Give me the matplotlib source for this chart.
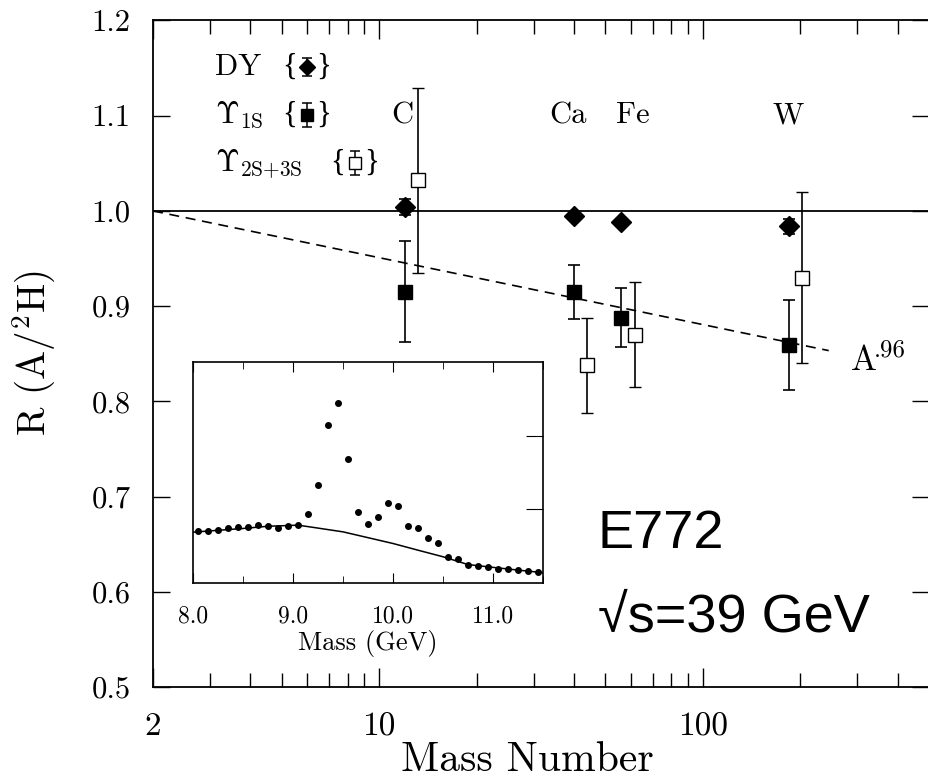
import matplotlib
matplotlib.use('Agg')
import matplotlib.pyplot as plt
import numpy as np
from matplotlib.ticker import FixedLocator, FuncFormatter, LogLocator, NullFormatter, MultipleLocator

plt.rcParams['font.family'] = 'cmr10'
plt.rcParams['mathtext.fontset'] = 'cm'
plt.rcParams['axes.formatter.use_mathtext'] = True
plt.rcParams['axes.unicode_minus'] = False

# nuclear targets
elements = ['C', 'Ca', 'Fe', 'W']
mass_number = [12, 40, 56, 184]

# Drell-Yan ratios
dy_ratio = [1.004, 0.995, 0.988, 0.984]
dy_err = [0.008, 0.004, 0.004, 0.008]

# Upsilon(1S) ratios
ups1s_ratio = [0.915, 0.915, 0.888, 0.859]
ups1s_err = [0.053, 0.028, 0.031, 0.047]

# Upsilon(2S+3S) ratios
ups23_ratio = [1.032, 0.838, 0.870, 0.930]
ups23_err = [0.097, 0.050, 0.055, 0.090]

# power-law guide  R = (A/2)^slope
guide_a = [2, 245]
guide_slope = -0.033

# inset: dimuon mass spectrum (arbitrary units)
inset_mass = [8.05, 8.15, 8.25, 8.35, 8.45, 8.55, 8.65, 8.75, 8.85, 8.95, 9.05,
              9.15, 9.25, 9.35, 9.45, 9.55, 9.65, 9.75, 9.85, 9.95, 10.05, 10.15,
              10.25, 10.35, 10.45, 10.55, 10.65, 10.75, 10.85, 10.95, 11.05, 11.15,
              11.25, 11.35, 11.45]
inset_counts = [0.70, 0.70, 0.725, 0.748, 0.757, 0.757, 0.793, 0.775, 0.748, 0.775, 0.793,
                0.932, 1.324, 2.144, 2.437, 1.685, 0.964, 0.797, 0.896, 1.085, 1.041, 0.775,
                0.743, 0.612, 0.536, 0.351, 0.324, 0.243, 0.225, 0.216, 0.194, 0.194,
                0.176, 0.167, 0.144]
cont_mass = [8.0, 8.25, 8.5, 8.75, 9.05, 9.25, 9.5, 9.75, 10.0, 10.25, 10.5, 10.75, 11.0, 11.25, 11.5]
cont_counts = [0.69, 0.715, 0.74, 0.77, 0.785, 0.745, 0.694, 0.615, 0.536, 0.445, 0.356, 0.25, 0.212, 0.175, 0.14]

fig = plt.figure(figsize=(9.29, 7.82), dpi=100)
ax = fig.add_axes([0.1647, 0.1215, 0.8353, 0.8523])

a = np.array(mass_number, dtype=float)
shift = 1.1  # open squares drawn slightly to the right

ax.axhline(1.0, color='k', lw=1.3, zorder=1)
ga = np.array(guide_a, dtype=float)
ax.plot(ga, (ga / 2) ** guide_slope, color='k', lw=1.2, ls=(0, (6, 4)), zorder=1)

eb = dict(color='k', ecolor='k', elinewidth=1.2, capsize=4, capthick=1.2, ls='none')
ax.errorbar(a, dy_ratio, yerr=dy_err, marker='D', ms=10, **eb, zorder=4)
ax.errorbar(a, ups1s_ratio, yerr=ups1s_err, marker='s', ms=10, **eb, zorder=4)
ax.errorbar(a * shift, ups23_ratio, yerr=ups23_err, marker='s', ms=10, mfc='white',
            mec='k', mew=1.0, **eb, zorder=3)

for name, aval, dx in zip(elements, mass_number, [-2, -4, 8, 0]):
    ax.annotate(name, (aval, 1.10), xytext=(dx, 0), textcoords='offset points',
                ha='center', va='center', fontsize=22)

ax.text(286, 0.833, 'A', fontsize=25, ha='left', va='baseline')
ax.annotate('.96', (286, 0.833), xytext=(17, 10), textcoords='offset points',
            fontsize=18, ha='left', va='baseline')

# key for the three series
keys = [(r'DY', 0.198, 0.930, 0.0135, dict(marker='D', mfc='k')),
        (r'$\Upsilon_{\rm 1S}$', 0.198, 0.858, 0.018, dict(marker='s', mfc='k')),
        (r'$\Upsilon_{\rm 2S{+}3S}$', 0.260, 0.786, 0.018, dict(marker='s', mfc='white'))]
for label, kx, ky, kerr, mk in keys:
    ax.text(0.080, ky, label, transform=ax.transAxes, fontsize=22, ha='left', va='center')
    ax.errorbar([kx], [ky], yerr=[kerr], transform=ax.transAxes, ms=8, mec='k',
                color='k', ecolor='k', elinewidth=1.1, capsize=3.5, capthick=1.1, ls='none', **mk)
    ax.text(kx - 0.022, ky, '{', transform=ax.transAxes, fontsize=22, ha='center', va='center',
            family='Liberation Serif')
    ax.text(kx + 0.022, ky, '}', transform=ax.transAxes, fontsize=22, ha='center', va='center',
            family='Liberation Serif')

ax.set_xscale('log')
ax.set_xlim(2, 500)
ax.set_ylim(0.5, 1.2)
ax.xaxis.set_major_locator(FixedLocator([2, 10, 100]))
ax.xaxis.set_major_formatter(FuncFormatter(lambda v, p: f'{v:g}'))
ax.xaxis.set_minor_locator(LogLocator(base=10, subs=np.arange(2, 10)))
ax.xaxis.set_minor_formatter(NullFormatter())
ax.yaxis.set_major_locator(MultipleLocator(0.1))
ax.yaxis.set_major_formatter(FuncFormatter(lambda v, p: f'{v:.1f}'))
ax.tick_params(axis='x', which='major', direction='in', length=14, width=1, top=True,
               labelsize=24, pad=18)
ax.tick_params(axis='x', which='minor', direction='in', length=10, width=1, top=True)
ax.tick_params(axis='y', which='major', direction='in', length=12, width=1, right=True,
               labelsize=22, pad=16)
for s in ax.spines.values():
    s.set_linewidth(1.3)

ax.set_xlabel('Mass Number', fontsize=30, labelpad=0)
ax.xaxis.set_label_coords(0.483, -0.082)
ax.set_ylabel(r'R (A/$^2$H)', fontsize=28, labelpad=24)

fig.text(598 / 929, 1 - 548 / 782, 'E772', fontsize=39, va='baseline', ha='left',
         family=['Liberation Sans', 'DejaVu Sans'])
fig.text(598 / 929, 1 - 632 / 782, '√s=39 GeV', fontsize=39, va='baseline', ha='left',
         family=['Liberation Sans', 'DejaVu Sans'])

# inset mass spectrum
ax_in = fig.add_axes([0.2078, 0.2545, 0.3767, 0.2826])
ax_in.plot(inset_mass, inset_counts, 'o', ms=4, color='k')
ax_in.plot(cont_mass, cont_counts, color='k', lw=1.1)
ax_in.set_xlim(8.0, 11.5)
ax_in.set_ylim(0, 3)
ax_in.xaxis.set_major_locator(MultipleLocator(1.0))
ax_in.xaxis.set_minor_locator(MultipleLocator(0.5))
ax_in.xaxis.set_major_formatter(FuncFormatter(lambda v, p: f'{v:.1f}'))
ax_in.yaxis.set_major_locator(FixedLocator([1, 2]))
ax_in.tick_params(axis='x', which='major', direction='in', length=7, top=True, labelsize=17, pad=16)
ax_in.tick_params(axis='x', which='minor', direction='in', length=5, top=True)
ax_in.tick_params(axis='y', which='major', direction='in', length=12, left=False, right=True,
                  labelleft=False)
for s in ax_in.spines.values():
    s.set_linewidth(1.2)
ax_in.set_xlabel('Mass (GeV)', fontsize=19, labelpad=2)

fig.savefig('out.png', dpi=100)
